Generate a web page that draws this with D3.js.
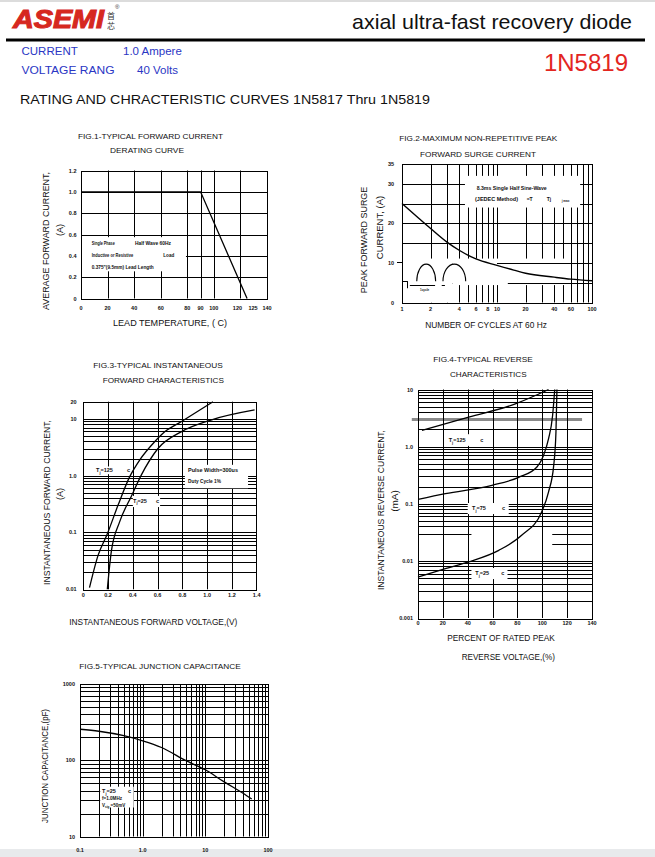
<!DOCTYPE html>
<html><head><meta charset="utf-8">
<script src="https://cdn.jsdelivr.net/npm/d3@7"></script>
<style>html,body{margin:0;padding:0;background:#fff;} svg{display:block;}</style>
</head><body>
<script>
// ================= DATA =================
// Fig.1 derating curve
const f1Temp = [0, 90, 125];
const f1Current = [1.0, 1.0, 0];
const f1XTicks = [0, 20, 40, 60, 80, 90, 100, 120, 125, 140];
const f1YTicks = [0, 0.2, 0.4, 0.6, 0.8, 1.0, 1.2];
const f1YTickText = ["0", "0.2", "0.4", "0.6", "0.8", "1.0", "1.2"];
const f1GridX = [20, 40, 60, 80, 90, 100, 120];
const f1GridY = [0.2, 0.4, 0.6, 0.8, 1.0];
// Fig.2 surge current
const f2Cycles = [1, 1.5, 2, 3, 4, 6, 10, 15, 20, 40, 60, 100];
const f2Surge = [25, 21.3, 18.7, 15.2, 13.2, 11.0, 9.4, 8.2, 7.4, 6.4, 5.9, 5.5];
const f2XTicks = [1, 2, 4, 6, 8, 10, 20, 40, 60, 100];
const f2YTicks = [0, 10, 20, 30, 35];
const f2GridY = [5, 10, 15, 20, 25, 30];
// Fig.3 forward characteristics
const f3Volt125 = [0.05, 0.12, 0.19, 0.28, 0.375, 0.455, 0.576, 0.657, 0.79, 1.047];
const f3Amp125 = [0.0107, 0.04, 0.09, 0.30, 0.96, 1.88, 3.95, 5.9, 8.9, 20];
const f3Volt25 = [0.194, 0.226, 0.294, 0.387, 0.468, 0.603, 0.79, 1.03, 1.383];
const f3Amp25 = [0.01, 0.046, 0.155, 0.43, 1.02, 3.0, 5.9, 9.5, 14.3];
const f3XTicks = [0, 0.2, 0.4, 0.6, 0.8, 1.0, 1.2, 1.4];
const f3XTickText = ["0", "0.2", "0.4", "0.6", "0.8", "1.0", "1.2", "1.4"];
const f3YTicks = [0.01, 0.1, 1, 10, 20];
const f3YTickText = ["0.01", "0.1", "1.0", "10", "20"];
// Fig.4 reverse characteristics
const f4Pct125 = [3.2, 40.8, 78.3, 94.4, 105];
const f4Cur125 = [1.92, 3.28, 5.6, 7.85, 10];
const f4Pct75 = [0, 22, 59.5, 81, 95.7, 101, 105, 108.3, 110];
const f4Cur75 = [0.119, 0.15, 0.21, 0.29, 0.44, 0.70, 1.37, 3.5, 10];
const f4Pct25 = [0, 22, 40.8, 65, 83.4, 99.5, 105, 109.2, 111, 111.8];
const f4Cur25 = [0.0052, 0.0073, 0.0096, 0.0153, 0.028, 0.072, 0.16, 0.47, 1.8, 10];
const f4XTicks = [0, 20, 40, 60, 80, 100, 120, 140];
const f4GridX = [20, 40, 60, 80, 100, 120];
const f4YTicks = [0.001, 0.01, 0.1, 1, 10];
const f4YTickText = ["0.001", "0.01", "0.1", "1.0", "10"];
// Fig.5 junction capacitance
const f5Volt = [0.1, 0.2, 0.5, 1, 2, 5, 10, 20, 40, 55];
const f5Cap = [255, 240, 210, 180, 147, 98, 75, 52, 37, 31];
const f5XTicks = [0.1, 1, 10, 100];
const f5XTickText = ["0.1", "1.0", "10", "100"];
const f5YTicks = [10, 100, 1000];
const f5YTickText = ["10", "100", "1000"];

// ================= HELPERS =================
const FONT = "'Liberation Sans', Arial, Helvetica, sans-serif";
const svg = d3.select("body").append("svg").attr("width", 655).attr("height", 857);
svg.append("rect").attr("width", 655).attr("height", 857).attr("fill", "#fff");

function T(g, s, x, y, o = {}) {
  const t = g.append("text").attr("font-family", o.family || FONT).attr("font-size", o.size || 8)
    .attr("fill", o.fill || "#111").attr("font-weight", o.weight || "normal")
    .attr("text-anchor", o.anchor || "start");
  if (o.italic) t.attr("font-style", "italic");
  if (o.rot) t.attr("transform", `translate(${x},${y}) rotate(-90)`);
  else t.attr("x", x).attr("y", y);
  if (o.len) t.attr("textLength", o.len).attr("lengthAdjust", "spacingAndGlyphs");
  t.text(s);
  return t;
}
const snap = v => Math.round(v) + 0.5;
function H(g, x, y, v, a, b, o = {}) {
  g.append("line").attr("x1", x(a)).attr("x2", x(b)).attr("y1", snap(y(v))).attr("y2", snap(y(v)))
    .attr("stroke", o.c || "#000").attr("stroke-width", o.w || 1);
}
function V(g, x, y, v, a, b, o = {}) {
  g.append("line").attr("y1", y(a)).attr("y2", y(b)).attr("x1", snap(x(v))).attr("x2", snap(x(v)))
    .attr("stroke", o.c || "#000").attr("stroke-width", o.w || 1);
}
function M(g, x, y, x0, x1, y0, y1) {
  g.append("rect").attr("x", Math.min(x(x0), x(x1))).attr("y", Math.min(y(y0), y(y1)))
    .attr("width", Math.abs(x(x1) - x(x0))).attr("height", Math.abs(y(y1) - y(y0))).attr("fill", "#fff");
}
function frame(g, x, y) {
  const [a, b] = x.range(), [c, d] = y.range();
  g.append("rect").attr("x", snap(a)).attr("y", snap(d)).attr("width", Math.round(b - a)).attr("height", Math.round(c - d))
    .attr("fill", "none").attr("stroke", "#000").attr("stroke-width", 1);
}
function curve(g, x, y, xs, ys, w = 1.3, c = d3.curveMonotoneX) {
  const pts = xs.map((v, i) => [v, ys[i]]);
  g.append("path").attr("d", d3.line().x(d => x(d[0])).y(d => y(d[1])).curve(c)(pts))
    .attr("fill", "none").attr("stroke", "#000").attr("stroke-width", w);
}
function tj(g, x, y, val, cx) {
  const t = g.append("text").attr("x", x).attr("y", y).attr("font-family", FONT).attr("font-size", 5.5)
    .attr("font-weight", "bold").attr("fill", "#111");
  t.append("tspan").text("T");
  t.append("tspan").attr("font-size", 4).attr("dy", 1.5).text("j");
  t.append("tspan").attr("dy", -1.5).text("=" + val);
  T(g, "c", cx, y, { size: 5.5, weight: "bold" });
}
const TICK = { size: 5.5, weight: "bold", fill: "#111" };

// ================= HEADER =================
const hd = svg.append("g");
hd.append("rect").attr("x", 0).attr("y", 0).attr("width", 655).attr("height", 2).attr("fill", "#dcdcdc");
T(hd, "ASEMI", 13, 28, { size: 26, weight: "bold", italic: true, fill: "#d6281f", len: 91 })
  .attr("stroke", "#d6281f").attr("stroke-width", 1.1);
T(hd, "首", 107, 19, { size: 8, fill: "#333", family: "'Noto Sans CJK SC', sans-serif" });
T(hd, "芯", 107, 29, { size: 8, fill: "#333", family: "'Noto Sans CJK SC', sans-serif" });
T(hd, "®", 115, 9, { size: 6, fill: "#333" });
T(hd, "axial ultra-fast recovery diode", 632, 29, { size: 21, anchor: "end", fill: "#111", len: 280 });
hd.append("rect").attr("x", 6).attr("y", 38.5).attr("width", 639).attr("height", 3).attr("fill", "#000");
const BLUE = "#2a36c4";
T(hd, "CURRENT", 21.5, 55, { size: 11.5, fill: BLUE });
T(hd, "1.0  Ampere", 123, 55, { size: 11.5, fill: BLUE });
T(hd, "VOLTAGE RANG", 21.5, 74, { size: 11.5, fill: BLUE, len: 93 });
T(hd, "40  Volts", 137, 74, { size: 11.5, fill: BLUE });
T(hd, "1N5819", 628, 71, { size: 24, anchor: "end", fill: "#e3261f" });
T(hd, "RATING AND CHRACTERISTIC CURVES 1N5817 Thru 1N5819", 20, 104, { size: 13, fill: "#111", len: 410 });

// ================= FIG 1 =================
{
  const g = svg.append("g");
  const x = d3.scaleLinear([0, 140], [81, 267]);
  const y = d3.scaleLinear([0, 1.2], [298.5, 170.5]);
  f1GridY.forEach(v => H(g, x, y, v, 0, 140));
  f1GridX.forEach(v => V(g, x, y, v, 0, 1.2));
  M(g, x, y, 0, 79, 0.255, 0.575);
  frame(g, x, y);
  curve(g, x, y, f1Temp, f1Current, 1.3, d3.curveLinear);
  T(g, "Single Phase", 91.7, 245, { size: 5, weight: "bold", len: 23 });
  T(g, "Half Wave 60Hz", 135, 245, { size: 5, weight: "bold", len: 36 });
  T(g, "Inductive or Resistive", 91.7, 257, { size: 5, weight: "bold", len: 41.5 });
  T(g, "Load", 163.3, 257, { size: 5, weight: "bold", len: 11 });
  T(g, "0.375\"(9.5mm) Lead Length", 91.7, 269, { size: 5, weight: "bold", len: 62 });
  f1YTicks.forEach((v, i) => T(g, f1YTickText[i], 76.5, y(v) + 2, { ...TICK, anchor: "end" }));
  const nudge = { 120: -3, 125: 6 };
  f1XTicks.forEach(v => T(g, String(v), x(v) + (nudge[v] || 0), 309.5, { ...TICK, anchor: "middle" }));
  T(g, "FIG.1-TYPICAL FORWARD CURRENT", 150.5, 139, { size: 8, anchor: "middle", len: 145 });
  T(g, "DERATING CURVE", 147, 153, { size: 8, anchor: "middle", len: 74 });
  T(g, "AVERAGE FORWARD CURRENT,", 48.5, 241, { size: 9, anchor: "middle", rot: true, len: 138 });
  T(g, "(A)", 63, 230, { size: 9, anchor: "middle", rot: true });
  T(g, "LEAD TEMPERATURE, (      C)", 170, 326, { size: 8.5, anchor: "middle", len: 114 });
}

// ================= FIG 2 =================
{
  const g = svg.append("g");
  const x = d3.scaleLog([1, 100], [402, 592]);
  const y = d3.scaleLinear([0, 35], [302.5, 164]);
  const gx = x.ticks().filter(v => v > 1 && v < 100);
  f2GridY.forEach(v => H(g, x, y, v, 1, 100));
  gx.forEach(v => V(g, x, y, v, 0, 35));
  M(g, x, y, 4.6, 75, 24, 32);
  M(g, x, y, 1, 3.4, 0, 11.1);
  M(g, x, y, 3.4, 55, 4.4, 11.1);
  H(g, x, y, 10, 10, 100);
  H(g, x, y, 5, 13, 100);
  frame(g, x, y);
  curve(g, x, y, f2Cycles, f2Surge, 1.4);
  // inset waveform sketch
  const hump = (a, b, base, peak) => {
    const x0 = x(a), x1 = x(b), yb = y(base), yp = y(peak);
    g.append("path").attr("d", `M${x0},${yb} A${(x1 - x0) / 2},${yb - yp} 0 0 1 ${x1},${yb}`)
      .attr("fill", "none").attr("stroke", "#000").attr("stroke-width", 1.1);
  };
  hump(1.43, 2.26, 5.35, 9.7);
  hump(2.7, 4.68, 5.35, 9.7);
  H(g, x, y, 5.4, 1, 1.14);
  V(g, x, y, 1.14, 5.4, 3.6);
  H(g, x, y, 4.5, 1.21, 2.23);
  H(g, x, y, 4.5, 2.62, 2.83);
  T(g, "1cycle", 420, 291, { size: 3, weight: "bold" });
  g.append("line").attr("x1", x(1) - 5).attr("x2", x(1)).attr("y1", snap(y(10.3))).attr("y2", snap(y(10.3))).attr("stroke", "#000");
  T(g, "8.3ms Single Half Sine-Wave", 476.7, 190, { size: 5, weight: "bold", len: 70 });
  T(g, "(JEDEC Method)", 475, 200.5, { size: 5, weight: "bold", len: 43 });
  T(g, "=T", 526.7, 200.5, { size: 5, weight: "bold" });
  T(g, "Tj", 546.7, 200.5, { size: 5, weight: "bold" });
  T(g, "j max", 561.7, 201.5, { size: 3, weight: "bold" });
  f2YTicks.forEach(v => T(g, String(v), 394, y(v) + 2, { ...TICK, anchor: "end" }));
  f2XTicks.forEach(v => T(g, String(v), x(v), 310.5, { ...TICK, anchor: "middle" }));
  T(g, "FIG.2-MAXIMUM NON-REPETITIVE PEAK", 478.3, 141, { size: 8, anchor: "middle", len: 158 });
  T(g, "FORWARD SURGE CURRENT", 478, 156.5, { size: 8, anchor: "middle", len: 116 });
  T(g, "PEAK FORWARD SURGE", 366.5, 240, { size: 9, anchor: "middle", rot: true, len: 106.6 });
  T(g, "CURRENT,  (A)", 383, 227.5, { size: 9.5, anchor: "middle", rot: true });
  T(g, "NUMBER OF CYCLES AT 60 Hz", 486, 328, { size: 8.5, anchor: "middle", len: 121.7 });
}

// ================= FIG 3 =================
{
  const g = svg.append("g");
  const x = d3.scaleLinear([0, 1.4], [83.3, 256.7]);
  const y = d3.scaleLog([0.01, 20], [589.3, 401.7]);
  const gy = y.ticks().filter(v => v > 0.0101 && v < 19.9);
  gy.forEach(v => H(g, x, y, v, 0, 1.4));
  f3XTicks.filter(v => v > 0 && v < 1.4).forEach(v => V(g, x, y, v, 0.01, 20));
  M(g, x, y, 0.82, 1.33, 0.6, 1.55);
  M(g, x, y, 0.1, 0.36, 1.06, 1.45);
  M(g, x, y, 0.40, 0.62, 0.28, 0.44);
  frame(g, x, y);
  curve(g, x, y, f3Volt125, f3Amp125, 1.3);
  curve(g, x, y, f3Volt25, f3Amp25, 1.3);
  tj(g, 96, 472, "125", 127);
  tj(g, 133, 502.5, "25", 156);
  T(g, "Pulse Width=300us", 188, 471.5, { size: 5, weight: "bold", len: 50 });
  T(g, "Duty Cycle 1%", 188, 482.5, { size: 5, weight: "bold", len: 33 });
  f3YTicks.forEach((v, i) => T(g, f3YTickText[i], 76.7, y(v) + 2, { ...TICK, anchor: "end" }));
  f3XTicks.forEach((v, i) => T(g, f3XTickText[i], x(v), 597, { ...TICK, anchor: "middle" }));
  T(g, "FIG.3-TYPICAL INSTANTANEOUS", 158, 368, { size: 8, anchor: "middle", len: 129.4 });
  T(g, "FORWARD CHARACTERISTICS", 163.3, 383, { size: 8, anchor: "middle", len: 121.3 });
  T(g, "INSTANTANEOUS FORWARD CURRENT,", 50, 502.5, { size: 9, anchor: "middle", rot: true, len: 165 });
  T(g, "(A)", 63.3, 494, { size: 9, anchor: "middle", rot: true });
  T(g, "INSTANTANEOUS FORWARD VOLTAGE,(V)", 153.3, 625, { size: 8.5, anchor: "middle", len: 168 });
}

// ================= FIG 4 =================
{
  const g = svg.append("g");
  const x = d3.scaleLinear([0, 140], [418, 592]);
  const y = d3.scaleLog([0.001, 10], [618, 389.5]);
  const gy = y.ticks().filter(v => v > 0.00101 && v < 9.9);
  gy.forEach(v => { if (Math.abs(v - 3) > 1e-9) H(g, x, y, v, 0, 140); });
  H(g, x, y, 3, -5, 132, { c: "#8a8a8a", w: 2.8 });
  M(g, x, y, 43, 108, 0.026, 0.034);
  M(g, x, y, 0, 108, 0.018, 0.022);
  f4GridX.forEach(v => V(g, x, y, v, 0.001, 10));
  M(g, x, y, 23, 55, 1.03, 1.65);
  M(g, x, y, 40, 73, 0.066, 0.103);
  M(g, x, y, 43, 72, 0.0048, 0.0075);
  frame(g, x, y);
  curve(g, x, y, f4Pct125, f4Cur125, 1.3);
  curve(g, x, y, f4Pct75, f4Cur75, 1.3);
  curve(g, x, y, f4Pct25, f4Cur25, 1.3);
  tj(g, 448.7, 442, "125", 480.3);
  tj(g, 472, 510, "75", 502);
  tj(g, 475.3, 575, "25", 501.3);
  f4YTicks.forEach((v, i) => T(g, f4YTickText[i], 413, y(v) + 2, { ...TICK, anchor: "end" }));
  f4XTicks.forEach(v => T(g, String(v), x(v), 625, { ...TICK, anchor: "middle" }));
  T(g, "FIG.4-TYPICAL REVERSE", 483, 361.5, { size: 8, anchor: "middle", len: 99.4 });
  T(g, "CHARACTERISTICS", 488.3, 377, { size: 8, anchor: "middle", len: 76.7 });
  T(g, "INSTANTANEOUS REVERSE CURRENT,", 384, 510, { size: 9, anchor: "middle", rot: true, len: 160 });
  T(g, "(mA)", 398.3, 501, { size: 9, anchor: "middle", rot: true, len: 21.7 });
  T(g, "PERCENT OF RATED PEAK", 501, 641, { size: 8.5, anchor: "middle", len: 107.7 });
  T(g, "REVERSE VOLTAGE,(%)", 508.3, 660, { size: 8.5, anchor: "middle", len: 93.3 });
}

// ================= FIG 5 =================
svg.append("rect").attr("x", 0).attr("y", 849).attr("width", 655).attr("height", 8).attr("fill", "#e8eaec");
{
  const g = svg.append("g");
  const x = d3.scaleLog([0.1, 100], [80, 268]);
  const y = d3.scaleLog([10, 1000], [836.5, 684]);
  const gx = x.ticks().filter(v => v > 0.101 && v < 99);
  const gy = y.ticks().filter(v => v > 10.1 && v < 999);
  gy.forEach(v => H(g, x, y, v, 0.1, 100));
  gx.forEach(v => V(g, x, y, v, 10, 1000));
  M(g, x, y, 0.21, 0.72, 24, 45);
  frame(g, x, y);
  curve(g, x, y, f5Volt, f5Cap, 1.3);
  tj(g, 102, 793, "25", 128);
  T(g, "f=1.0MHz", 102, 800, { size: 4.5, weight: "bold", len: 20 });
  const t = g.append("text").attr("x", 102).attr("y", 807).attr("font-family", FONT).attr("font-size", 4.5)
    .attr("font-weight", "bold").attr("fill", "#111");
  t.append("tspan").text("V");
  t.append("tspan").attr("font-size", 3).attr("dy", 1.2).text("sig");
  t.append("tspan").attr("dy", -1.2).text(" =50mV");
  f5YTicks.forEach((v, i) => T(g, f5YTickText[i], 75, y(v) + 2, { ...TICK, anchor: "end" }));
  f5XTicks.forEach((v, i) => T(g, f5XTickText[i], x(v), 852, { ...TICK, anchor: "middle" }));
  T(g, "FIG.5-TYPICAL JUNCTION CAPACITANCE", 160, 669, { size: 8, anchor: "middle", len: 161.4 });
  T(g, "JUNCTION CAPACITANCE,(pF)", 48.3, 766, { size: 9, anchor: "middle", rot: true, len: 114 });
}
</script>
</body></html>
